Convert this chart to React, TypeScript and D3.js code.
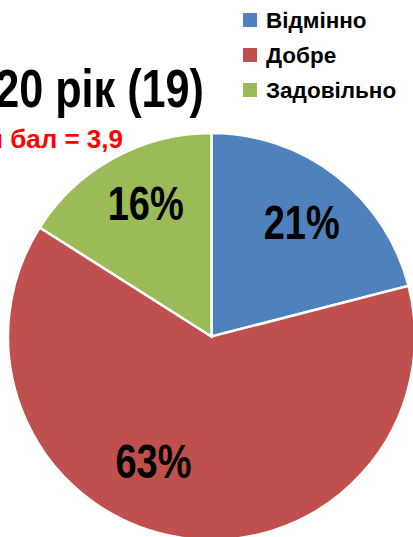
import React from "react";
import * as d3 from "d3";

const categories = ["Відмінно", "Добре", "Задовільно"];
const values = [21, 63, 16];
const colors = ["#4F81BD", "#C0504D", "#9BBB59"];
const titleText = "2019-2020 рік (19)";
const subtitleText = "Середній бал = 3,9";

const W = 413;
const H = 537;
const cx = 211.5;
const cy = 336.5;
const R = 203.5;
// label placement (angle shift in degrees, radius fraction)
const labelPlace: Record<string, { shift: number; rf: number }> = {
  "Відмінно": { shift: 0.5, rf: 0.715 },
  "Добре": { shift: 16, rf: 0.675 },
  "Задовільно": { shift: 2.5, rf: 0.73 },
};

export default function App() {
  const data = categories.map((c, i) => ({ c, v: values[i], color: colors[i] }));
  const pie = d3.pie<any>().value((d) => d.v).sort(null).startAngle(0).endAngle(2 * Math.PI);
  const arcs = pie(data);
  const arc = d3.arc<any>().innerRadius(0).outerRadius(R);
  const total = d3.sum(values);

  return (
    <svg
      width={W}
      height={H}
      style={{ position: "absolute", left: 0, top: 0, background: "#fff" }}
      fontFamily="'Liberation Sans', Arial, sans-serif"
    >
      <g transform={`translate(${cx},${cy})`}>
        {arcs.map((a, i) => (
          <path key={i} d={arc(a) as string} fill={a.data.color} stroke="#fff" strokeWidth={2.5} strokeLinejoin="miter" />
        ))}
        {arcs.map((a, i) => {
          const p = labelPlace[a.data.c];
          const ang = (a.startAngle + a.endAngle) / 2 + (p.shift * Math.PI) / 180;
          const r = R * p.rf;
          const x = r * Math.sin(ang);
          const y = -r * Math.cos(ang);
          return (
            <text
              key={"l" + i}
              x={x}
              y={y + 17}
              textAnchor="middle"
              fontSize={48}
              fontWeight="bold"
              textLength={76}
              lengthAdjust="spacingAndGlyphs"
              fill="#000"
            >
              {Math.round((a.data.v / total) * 100) + "%"}
            </text>
          );
        })}
      </g>
      <g transform="translate(204,107) scale(0.8,1)">
        <text x={0} y={0} textAnchor="end" fontSize={54} fontWeight="bold" fill="#000">
          {titleText}
        </text>
      </g>
      <text x={123} y={148} textAnchor="end" fontSize={26} fontWeight="bold" fill="#FF0000">
        {subtitleText}
      </text>
      <g>
        {categories.map((c, i) => (
          <g key={c} transform={`translate(243,${13 + i * 35})`}>
            <rect x={0} y={0} width={14} height={14} fill={colors[i]} />
            <text x={23} y={15} fontSize={22.5} fontWeight="bold" fill="#000">
              {c}
            </text>
          </g>
        ))}
      </g>
    </svg>
  );
}
